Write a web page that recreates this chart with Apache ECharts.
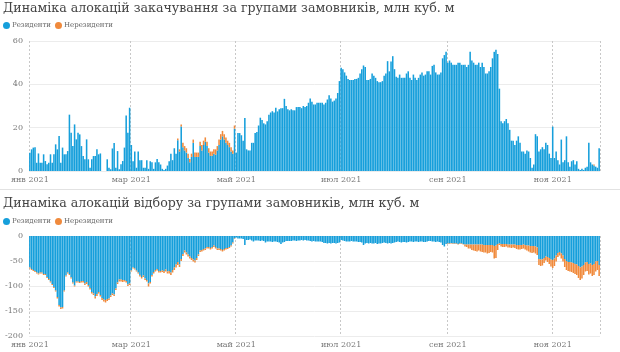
<!DOCTYPE html>
<html>
<head>
<meta charset="utf-8">
<script src="https://cdn.jsdelivr.net/npm/echarts/dist/echarts.min.js"></script>
<style>
html, body { margin: 0; padding: 0; background: #fff; }
#chart { width: 620px; height: 352px; }
</style>
</head>
<body>
<div id="chart"></div>
<script>
// закачування, млн куб. м (по днях, 01.01.2021 - 28.11.2021)
var inResidents = [
  8.4,10,10.8,11,3.8,8.1,3.8,3.8,7.7,4.6, 3.1,3.8,7.7,3.8,7.7,12.3,10,16.1,3.8,10.8, 7.7,7.7,9.2,26,17.6,11.5,21.5,14.6,17.6,16.9, 11.5,
  6.9,5.4,14.6,5.4,1.5,5.4,6.9,6.9,10,7.7, 8.1,0,0,0,5.4,1.5,0.8,10.4,12.9,1.5, 9.2,0.8,3.1,4.6,10.8,25.6,17.6,29.2,
  12,4.5,9,1.5,9,5,5,1.5,1.5,5, 1,4.5,4,1,4,5.5,4,3,1,0.5, 1,2.5,4.5,8,5,10.5,8,14.2,9,20.5, 11,
  9.5,8.5,6,4,6.5,13,6.5,6.5,6.5,11.5, 9.5,12,13.5,11.5,8.5,7,7,8,7.5,9.5, 12,14.5,16,14.5,13,12,11,9,8,19.5,
  8.5,17.5,17.5,16.5,14,24.5,10,9.5,9.5,13, 13,17.5,18,21,24.6,23.5,22,21.5,23,26, 27,27.6,27,29.2,27.5,28.5,29,29,33.3,30, 28.5,
  28,28.5,28,28,29.5,29.5,29.5,29,30,29.5, 30,31.5,33.5,32,30.7,30.7,31.5,31.5,31.5,31.5, 30.7,31.5,33,35,33.5,32,32.5,33.5,36,41.5,
  47.6,47,45.5,44,42.5,42,42,42,42.5,42.5, 43,45,47,48.7,48,42,42,42.5,45,44, 43,41.5,41,41,41.5,44,45,50.7,46,50.5, 53,
  47,43.5,43,44.5,43,43,43,45,46,43, 42,44.5,43,42,43,44.5,45.5,44,44.5,46, 46,44.5,48.5,49,45.5,44.5,44.5,45.5,52,53.5, 55,
  50,51,50,49,49,49,50,50,49,49, 49,48,49,55,51,50,49,49,50,48, 50,48,45,45,46,48,52,55,56,54,
  38,23,22,23,24,22,19,14,14,12, 14,16,13,9,9,8,9.5,9,6,1.5, 3,17,16,9,10,11,10,13,12,8, 6,
  20.5,6,9,5,3,14.5,4,5,16,4, 2,4.5,5,3,4.5,1,0.5,1,0.5,1.5, 2,13,4,3,2.5,2,1.5,10.5
];
var inNonresidents = [
  0,0,0,0,0,0,0,0,0,0, 0,0,0,0,0,0,0,0,0,0, 0,0,0,0,0,0,0,0,0,0, 0,
  0,0,0,0,0,0,0,0,0,0, 0,0,0,0,0,0,0,0,0,0, 0,0,0,0,0,0,0,0,
  0,0,0,0,0,0,0,0,0,0, 0,0,0,0,0,0,0,0,0,0, 0,0,0,0,0,0,0,0.8,1,1, 2,
  2,2,2,1.5,1.5,1.5,2,2,2,2, 2.5,2,2,2,2,2,2,2,2.5,2, 2.5,2.5,2.5,2.5,2.5,2,2,2,1.5,1.5,
  0,0,0,0,0,0,0,0,0,0, 0,0,0,0,0,0,0,0,0,0, 0,0,0,0,0,0,0,0,0,0, 0,
  0,0,0,0,0,0,0,0,0,0, 0,0,0,0,0,0,0,0,0,0, 0,0,0,0,0,0,0,0,0,0,
  0,0,0,0,0,0,0,0,0,0, 0,0,0,0,0,0,0,0,0,0, 0,0,0,0,0,0,0,0,0,0, 0,
  0,0,0,0,0,0,0,0,0,0, 0,0,0,0,0,0,0,0,0,0, 0,0,0,0,0,0,0,0,0,0, 0,
  0,0,0,0,0,0,0,0,0,0, 0,0,0,0,0,0,0,0,0,0, 0,0,0,0,0,0,0,0,0,0,
  0,0,0,0,0,0,0,0,0,0, 0,0,0,0,0,0,0,0,0,0, 0,0,0,0,0,0,0,0,0,0, 0,
  0,0,0,0,0,0,0,0,0,0, 0,0,0,0,0,0,0,0,0,0, 0,0,0,0,0.5,0,0,0
];

// відбір, млн куб. м
var outResidents = [
  -63,-66,-68,-70,-73,-75,-73,-73,-76,-76, -82,-86,-91,-96,-102,-109,-122,-138,-143,-142, -109,-79,-73,-76,-83,-93,-99,-91,-91,-92, -90,
  -90,-95,-92,-98,-104,-112,-115,-121,-116,-112, -118,-124,-127,-128,-126,-125,-119,-115,-117,-105, -93,-87,-87,-88,-88,-90,-97,-95,
  -69,-63,-65,-69,-73,-78,-82,-79,-85,-88, -95,-92,-78,-72,-68,-66,-70,-70,-69,-70, -67,-71,-70,-73,-68,-63,-57,-52,-57,-46, -36,
  -29,-33,-37,-41,-44,-47,-49,-44,-37,-29, -28,-26,-25,-22,-22,-24,-22,-19,-22,-25, -25,-26,-28,-26,-24,-24,-22,-19,-13,-5,
  -3,-5,-5,-5,-6,-18,-8,-8,-7,-9, -11,-9,-9,-9,-10,-9,-10,-13,-11,-11, -11,-12,-11,-11,-12,-13,-16,-13,-12,-10, -10,
  -10,-10,-9,-9,-10,-9,-9,-8,-9,-8, -9,-9,-10,-11,-10,-11,-11,-11,-11,-12, -14,-14,-15,-14,-15,-14,-14,-15,-14,-13,
  -8,-9,-10,-11,-11,-11,-10,-11,-11,-11, -12,-12,-13,-18,-15,-14,-15,-14,-15,-15, -14,-16,-15,-15,-14,-13,-14,-15,-14,-15, -14,
  -13,-12,-11,-12,-13,-12,-12,-13,-12,-11, -11,-12,-11,-11,-12,-11,-11,-12,-12,-11, -10,-10,-11,-11,-12,-11,-12,-13,-18,-21, -16,
  -15,-15,-14,-15,-15,-15,-16,-15,-15,-16, -17,-17,-17,-17,-17,-17,-17,-17,-17,-17, -17,-18,-18,-18,-18,-18,-18,-20,-19,-16,
  -15,-16,-16,-16,-16,-17,-17,-17,-17,-17, -18,-18,-18,-18,-17,-18,-19,-19,-20,-20, -20,-21,-23,-46,-47,-47,-44,-41,-42,-44, -47,
  -48,-45,-39,-34,-32,-35,-39,-46,-50,-52, -52,-53,-54,-56,-57,-60,-63,-61,-58,-53, -52,-56,-55,-58,-56,-51,-50,-58
];
var outNonresidents = [
  -2,-2,-2,-2,-2,-2,-2,-2,-2,-2, -2,-2,-2,-2,-2,-2,-3,-3,-3,-3, -2,-2,-2,-2,-2,-2,-2,-2,-2,-2, -3,
  -3,-3,-4,-3,-3,-3,-3,-4,-4,-3, -3,-4,-4,-5,-4,-3,-3,-3,-3,-3, -3,-4,-4,-4,-3,-3,-3,-3,
  -2,-2,-2,-2,-2,-3,-3,-3,-3,-3, -6,-3,-3,-3,-3,-3,-3,-3,-3,-4, -4,-4,-5,-5,-5,-5,-6,-6,-5,-4, -4,
  -4,-4,-4,-4,-4,-4,-4,-4,-3,-3, -3,-3,-3,-3,-3,-3,-3,-3,-3,-3, -3,-3,-3,-3,-3,-2,-2,-2,-2,-1,
  0,0,0,0,0,0,0,0,0,0, 0,0,0,0,0,0,0,0,0,0, 0,0,0,0,0,0,0,0,0,0, 0,
  0,0,0,0,0,0,0,0,0,0, 0,0,0,0,0,0,0,0,0,0, 0,0,0,0,0,0,0,0,0,0,
  0,0,0,0,0,0,0,0,0,0, 0,0,0,0,0,0,0,0,0,0, 0,0,0,0,0,0,0,0,0,0, 0,
  0,0,0,0,0,0,0,0,0,0, 0,0,0,0,0,0,0,0,0,0, 0,0,0,0,0,0,0,0,0,0, 0,
  -1,-1,-1,-1,-1,-1,-1,-1,-1,-1, -4,-5,-8,-8,-11,-12,-13,-14,-12,-14, -15,-15,-15,-17,-16,-14,-15,-25,-25,-12,
  -3,-5,-6,-6,-5,-6,-6,-7,-6,-7, -8,-9,-9,-8,-8,-9,-10,-12,-13,-14, -13,-14,-15,-12,-13,-12,-10,-8,-10,-12, -14,
  -16,-15,-12,-8,-7,-10,-12,-16,-18,-18, -19,-19,-20,-20,-21,-24,-25,-24,-20,-18, -18,-21,-20,-22,-22,-20,-18,-22
];

var monthNames = ['янв', 'фев', 'мар', 'апр', 'май', 'июн', 'июл', 'авг', 'сен', 'окт', 'ноя', 'дек'];
var labelMonths = ['01', '03', '05', '07', '09', '11'];

var days = [];
for (var i = 0; i < inResidents.length; i++) {
  days.push(new Date(Date.UTC(2021, 0, 1 + i)).toISOString().slice(0, 10));
}

var BLUE = '#169fdb';
var ORANGE = '#f08a3c';
var FONT = 'DejaVu Serif';

function isMark(index, value) {
  return value.slice(8) === '01' && labelMonths.indexOf(value.slice(5, 7)) >= 0;
}

function xAxisFor(gridIndex) {
  return {
    type: 'category',
    gridIndex: gridIndex,
    data: days,
    axisLine: { show: false },
    axisTick: { show: false },
    axisLabel: {
      interval: isMark,
      margin: 5,
      color: '#777',
      fontFamily: FONT,
      fontSize: 8,
      formatter: function (v) {
        return monthNames[+v.slice(5, 7) - 1] + ' ' + v.slice(0, 4)
      }
    },
    splitLine: {
      show: true,
      interval: isMark,
      lineStyle: { color: '#c8c8c8', type: [2, 2], width: 1 }
    }
  }
}

function yAxisFor(gridIndex, min, max, step) {
  return {
    type: 'value',
    gridIndex: gridIndex,
    min: min,
    max: max,
    interval: step,
    axisLine: { show: false },
    axisTick: { show: false },
    axisLabel: { margin: 6, color: '#777', fontFamily: FONT, fontSize: 8 },
    splitLine: { lineStyle: { color: '#ececec', width: 1 } }
  }
}

function legendAt(top) {
  return {
    top: top,
    left: 3,
    padding: 0,
    icon: 'circle',
    itemWidth: 7,
    itemHeight: 7,
    itemGap: 4,
    selectedMode: false,
    textStyle: { color: '#666', fontFamily: FONT, fontSize: 7, padding: [0, 0, 0, -3] },
    data: ['Резиденти', 'Нерезиденти']
  }
}

function titleAt(text, top) {
  return {
    text: text,
    left: 3,
    top: top,
    padding: 0,
    textStyle: { color: '#444', fontFamily: FONT, fontSize: 12.6, fontWeight: 'normal' }
  }
}

function barSeries(name, stack, idx, color, data) {
  return {
    name: name,
    type: 'bar',
    stack: stack,
    xAxisIndex: idx,
    yAxisIndex: idx,
    barCategoryGap: '10%',
    itemStyle: { color: color },
    data: data
  }
}

var chart = echarts.init(document.getElementById('chart'));
chart.setOption({
  backgroundColor: '#fff',
  animation: false,
  title: [
    titleAt('Динаміка алокацій закачування за групами замовників, млн куб. м', 2),
    titleAt('Динаміка алокацій відбору за групами замовників, млн куб. м', 197)
  ],
  legend: [legendAt(22), legendAt(218)],
  grid: [
    { left: 29, right: 20, top: 41, height: 130, containLabel: false, outerBoundsMode: 'none' },
    { left: 29, right: 20, top: 236, height: 100, containLabel: false, outerBoundsMode: 'none' }
  ],
  xAxis: [xAxisFor(0), xAxisFor(1)],
  yAxis: [yAxisFor(0, 0, 60, 20), yAxisFor(1, -200, 0, 50)],
  graphic: [{
    type: 'line',
    shape: { x1: 0, y1: 189.5, x2: 620, y2: 189.5 },
    style: { stroke: '#e2e2e2', lineWidth: 1 }
  }],
  series: [
    barSeries('Резиденти', 'in', 0, BLUE, inResidents),
    barSeries('Нерезиденти', 'in', 0, ORANGE, inNonresidents),
    barSeries('Резиденти', 'out', 1, BLUE, outResidents),
    barSeries('Нерезиденти', 'out', 1, ORANGE, outNonresidents)
  ]
});
</script>
</body>
</html>
